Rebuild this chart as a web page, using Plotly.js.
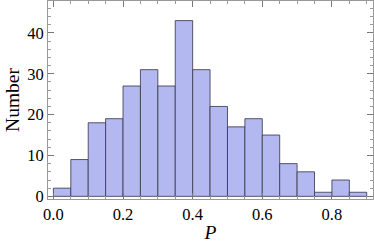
<!DOCTYPE html>
<html><head><meta charset="utf-8">
<script src="https://cdn.plot.ly/plotly-3.0.1.min.js"></script>
<style>html,body{margin:0;padding:0;background:#fff}#c{width:374px;height:250px}</style>
</head><body><div id="c"></div>
<script>
const binStarts = [0.00,0.05,0.10,0.15,0.20,0.25,0.30,0.35,0.40,0.45,0.50,0.55,0.60,0.65,0.70,0.75,0.80,0.85];
const counts    = [2, 9, 18, 19, 27, 31, 27, 43, 31, 22, 17, 19, 15, 8, 6, 1, 4, 1];
const binWidth = 0.05;
const xTickVals = [0, 0.2, 0.4, 0.6, 0.8];
const xTickText = ['0.0','0.2','0.4','0.6','0.8'];
const yTickVals = [0, 10, 20, 30, 40];

const fam = '"Liberation Serif", "DejaVu Serif", serif';
const tickFont = {family:fam, size:16.5, color:'#000'};
const titleFont = {family:fam, size:19.5, color:'#000'};
Plotly.newPlot('c', [{
  type:'bar', x: binStarts, y: counts, width: binWidth, offset: 0,
  marker:{color:'rgb(179,184,241)', line:{color:'rgba(60,60,80,0.85)', width:1}}
}], {
  width:374, height:250,
  margin:{l:48, r:1, t:1, b:51},
  paper_bgcolor:'#fff', plot_bgcolor:'#fff',
  bargap:0, showlegend:false, font: tickFont,
  xaxis:{range:[-0.0155,0.918], tickvals:xTickVals, ticktext:xTickText,
    ticks:'inside', ticklen:6, tickcolor:'#777', showline:true, linecolor:'#999', linewidth:1,
    mirror:'allticks', showgrid:false, zeroline:false, tickfont:tickFont,
    minor:{dtick:0.05, tick0:0, ticks:'inside', ticklen:3, tickcolor:'#999', showgrid:false},
    title:{text:'<i>P</i>', font:titleFont, standoff:2}},
  yaxis:{range:[-0.65,47.8], tickvals:yTickVals,
    ticks:'inside', ticklen:6, tickcolor:'#777', showline:true, linecolor:'#999', linewidth:1,
    mirror:'allticks', showgrid:false, zeroline:false, tickfont:tickFont,
    minor:{dtick:2, tick0:0, ticks:'inside', ticklen:3, tickcolor:'#999', showgrid:false},
    title:{text:'Number', font:titleFont, standoff:2}}
}, {displayModeBar:false, staticPlot:true});
</script></body></html>
